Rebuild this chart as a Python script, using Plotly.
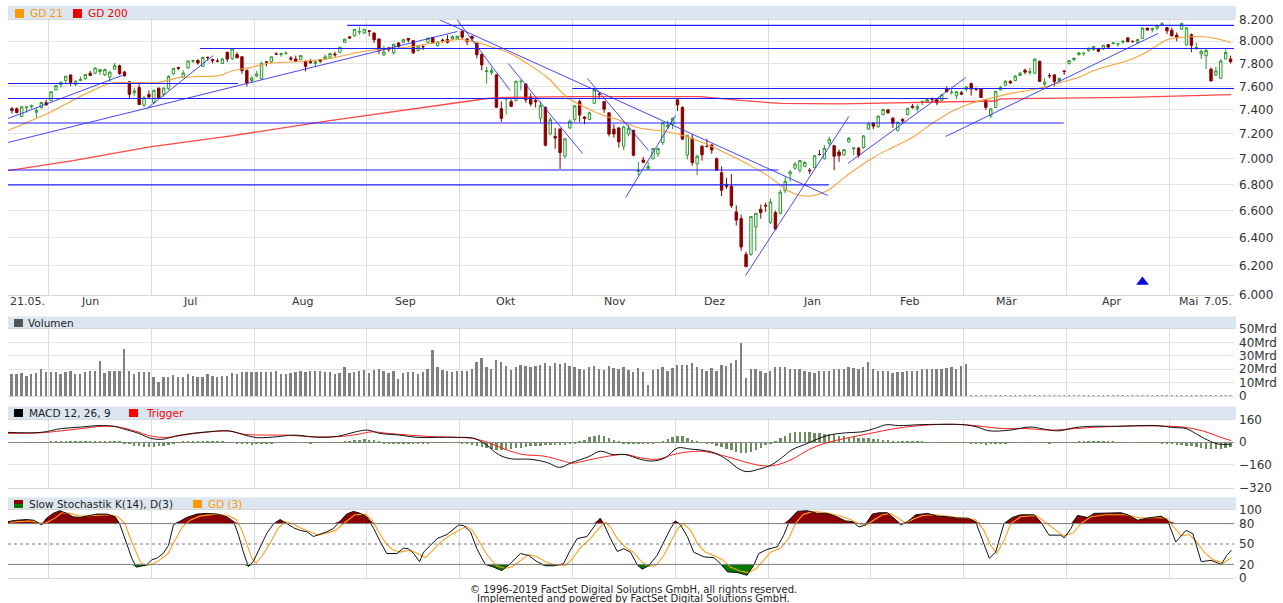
import math
import plotly.graph_objects as go

# ---------------- data ----------------
month_labels = ["Jun", "Jul", "Aug", "Sep", "Okt", "Nov", "Dez", "Jan", "Feb", "Mär", "Apr", "Mai"]
month_start_idx = [8, 29, 50, 73, 92, 115, 136, 155, 176, 195, 216, 237]
month_label_pos = [16, 36.4, 59.3, 80.4, 101, 123.3, 143.6, 163.4, 183.4, 203.3, 224.7, 240.5]
first_label = "21.05."
last_label = "7.05."

opens = [7410,7410,7345,7418,7425,7380,7420,7460,
 7480,7570,7615,7650,7700,7615,7650,7665,7715,7715,7730,7700,7680,7750,7780,7725,7640,7545,7590,7440,7530,
 7460,7585,7530,7580,7710,7765,7680,7760,7820,7830,7775,7855,7835,7820,7800,7900,7845,7880,7860,7740,7650,
 7690,7665,7815,7815,7885,7880,7890,7850,7840,7835,7820,7820,7800,7835,7840,7855,7885,7900,7990,8040,8050,8085,8075,
 8095,8075,8020,7875,7940,7895,7985,7990,8025,8005,7915,7950,7990,8035,7960,8010,8015,8020,8020,
 8090,8020,8045,7985,7880,7730,7720,7700,7410,7490,7470,7480,7640,7620,7510,7480,7330,7420,7200,7180,7240,7020,7250,
 7320,7470,7340,7320,7455,7535,7470,7375,7240,7250,7100,7200,7230,6900,6990,6920,7000,7040,7130,7260,7280,
 7485,7420,7030,7165,6960,7100,7100,7110,7000,6890,6800,6785,6590,6540,6280,6280,6480,6610,6640,
 6510,6585,6580,6750,6880,6925,6910,6940,6910,6930,7035,7000,7125,7105,7055,7030,7135,7080,7085,7090,7240,
 7290,7260,7360,7400,7330,7230,7320,7360,7430,7410,7470,7465,7490,7485,7480,7575,7545,7520,7545,
 7575,7625,7580,7580,7480,7350,7420,7570,7610,7645,7650,7695,7740,7720,7715,7820,7620,7695,7700,7650,7735,
 7800,7835,7880,7890,7915,7925,7930,7930,7970,7980,7975,7990,8030,8000,7990,8025,8120,8105,8120,8150,8125,
 8100,8055,8110,7965,8060,7935,7885,7870,7750,7700,7670,7840,7840]
highs = [7425,7420,7428,7432,7445,7420,7470,7487,
 7557,7612,7639,7689,7702,7650,7685,7705,7735,7765,7750,7755,7730,7806,7790,7735,7645,7590,7620,7520,7565,
 7570,7590,7590,7695,7757,7770,7740,7825,7835,7835,7860,7860,7845,7845,7845,7905,7935,7900,7865,7745,7690,
 7735,7815,7820,7860,7900,7895,7910,7865,7870,7875,7825,7840,7825,7840,7880,7895,7905,7946,8025,8045,8110,8133,8110,
 8100,8080,8025,7960,7945,7980,7990,8025,8030,8010,7965,7970,8035,8040,8000,8025,8055,8055,8050,
 8107,8030,8050,7995,7890,7770,7765,7705,7470,7500,7490,7650,7655,7625,7540,7500,7470,7430,7340,7250,7250,7165,7320,
 7440,7485,7345,7385,7575,7550,7475,7380,7280,7255,7270,7275,7235,6975,7015,6975,7085,7090,7295,7310,7335,
 7490,7430,7190,7200,7035,7110,7160,7120,7010,6940,6850,6880,6640,6570,6300,6555,6580,6645,6660,
 6690,6600,6760,6860,6910,6975,6990,6980,6925,7030,7070,7110,7180,7110,7075,7075,7175,7090,7095,7190,7300,
 7295,7350,7410,7405,7340,7300,7330,7415,7450,7445,7475,7495,7505,7495,7530,7600,7575,7560,7560,
 7600,7635,7590,7580,7485,7415,7560,7605,7655,7650,7700,7725,7755,7760,7850,7825,7670,7715,7705,7675,7740,
 7830,7850,7900,7900,7940,7955,7940,7965,7975,7990,7980,8010,8040,8005,8020,8125,8125,8125,8146,8175,8130,
 8125,8080,8165,8125,8070,7985,7925,7935,7765,7770,7840,7925,7870]
lows = [7370,7370,7337,7375,7410,7335,7410,7435,
 7475,7565,7590,7620,7604,7605,7645,7660,7690,7705,7700,7690,7640,7745,7700,7685,7490,7520,7440,7425,7500,
 7450,7500,7510,7570,7700,7740,7675,7755,7805,7790,7770,7825,7800,7810,7795,7815,7830,7845,7710,7600,7630,
 7680,7660,7775,7800,7875,7860,7880,7825,7815,7830,7730,7800,7770,7805,7835,7850,7860,7895,7985,8020,8040,8060,8070,
 8045,7985,7885,7870,7905,7880,7930,7985,7990,7885,7910,7920,7985,7980,7950,7985,7980,8010,8015,
 8015,7965,8000,7845,7740,7625,7700,7415,7300,7360,7425,7470,7565,7460,7430,7420,7290,7100,7190,7080,6920,7000,7240,
 7300,7300,7280,7315,7450,7490,7375,7180,7170,7090,7070,7180,7020,6870,6965,6915,6995,7015,7110,7240,7240,
 7390,7150,6995,6945,6870,6985,7090,7040,6905,6710,6765,6620,6490,6305,6190,6270,6305,6540,6590,
 6500,6455,6570,6730,6820,6915,6890,6935,6880,6925,7025,6995,7105,6910,6975,7025,7130,7030,7010,7080,7235,
 7240,7250,7355,7365,7250,7220,7290,7355,7410,7385,7440,7460,7465,7440,7475,7550,7530,7490,7525,
 7555,7520,7560,7500,7400,7330,7420,7565,7605,7620,7645,7690,7705,7700,7710,7640,7595,7670,7600,7630,7700,
 7790,7820,7870,7865,7905,7915,7900,7920,7935,7970,7950,7980,7990,7985,7980,8020,8100,8080,8100,8140,8065,
 8045,8000,8105,7960,7900,7920,7840,7750,7645,7690,7665,7840,7800]
closes = [7394,7378,7426,7424,7434,7396,7462,7442,
 7554,7606,7637,7689,7635,7646,7660,7704,7695,7761,7746,7747,7725,7781,7712,7692,7532,7561,7445,7503,7510,
 7567,7503,7586,7688,7757,7759,7716,7823,7826,7805,7855,7854,7825,7820,7841,7840,7932,7852,7737,7630,7672,
 7707,7802,7812,7860,7884,7888,7891,7839,7819,7871,7775,7806,7816,7821,7859,7889,7878,7946,8018,8030,8109,8088,8110,
 8091,8013,7922,7903,7924,7972,7954,8014,8010,7896,7956,7950,8028,7987,7993,8007,7990,8042,8046,
 8037,7999,8025,7879,7788,7735,7738,7422,7329,7497,7430,7645,7643,7485,7449,7468,7437,7108,7318,7167,7050,7161,7306,
 7434,7357,7328,7375,7570,7530,7406,7200,7200,7136,7259,7247,7028,6909,6972,6939,7082,7082,7292,7273,7331,
 7442,7158,7189,6970,7020,7032,7099,7070,6910,6754,6784,6637,6529,6333,6193,6555,6580,6585,6635,
 6665,6463,6739,6823,6897,6958,6986,6971,6906,7024,7034,7084,7157,7020,7025,7073,7165,7086,7028,7184,7282,
 7264,7348,7403,7376,7288,7298,7307,7414,7421,7426,7472,7487,7489,7459,7527,7554,7549,7555,7533,
 7595,7577,7576,7505,7421,7408,7558,7591,7644,7630,7688,7714,7724,7728,7838,7643,7637,7692,7643,7669,7729,
 7828,7848,7895,7891,7938,7953,7909,7964,7947,7985,7976,8000,7996,7998,8015,8120,8102,8118,8146,8161,8095,
 8049,8036,8164,8123,7963,7943,7910,7917,7647,7735,7822,7898,7816]

# volume in Mrd (data ends 01.03.; later days have no volume)
volume_mrd = [16.7,16.7,17.1,14.8,16.2,17.1,20.5,17.9,
 17.9,17.9,16.7,18.1,19.0,16.7,16.7,17.9,19.0,18.6,26.2,17.1,18.6,18.6,19.0,35.2,18.6,16.2,17.9,17.9,17.9,
 14.3,10.2,14.5,14.3,15.5,14.3,14.5,16.2,14.8,14.3,14.3,16.2,14.8,14.3,15.0,14.8,17.1,16.2,18.1,17.6,17.6,
 17.9,18.1,18.1,17.6,18.6,16.7,16.2,17.1,18.1,19.0,17.6,19.0,18.6,18.6,17.9,17.6,16.2,17.1,21.4,17.1,17.9,18.6,19.5,
 17.4,19.5,20.5,18.6,17.1,18.6,12.4,17.1,18.1,18.1,16.7,18.1,20.5,34.5,21.4,19.5,18.6,17.6,18.6,
 18.6,18.6,20.0,25.7,28.6,22.0,20.5,26.7,25.7,22.4,19.5,21.4,22.9,22.4,21.9,22.4,23.3,25.0,22.4,24.3,23.8,24.3,22.4,
 21.4,20.5,19.5,21.9,22.4,20.0,19.5,22.4,21.0,20.5,21.9,19.5,18.1,21.0,18.1,7.9,19.5,20.0,21.9,19.0,21.0,
 23.3,23.3,22.9,24.5,21.4,20.5,19.0,21.0,19.0,22.9,22.6,24.5,26.9,39.3,13.8,20.5,19.8,18.6,17.0,
 19.0,21.4,21.4,21.4,20.5,20.5,19.8,18.6,18.1,17.4,18.6,19.0,18.6,20.5,20.5,19.8,21.4,20.9,19.8,22.0,25.7,
 20.5,18.6,19.0,18.6,17.4,18.1,18.1,18.6,19.0,19.0,19.8,20.5,20.5,19.8,20.5,20.9,21.4,20.5,22.1,
 23.8]

gd21_idx = [-0.8,7.2,11.2,15.3,20,24.7,29.7,34.4,38.4,42.5,45.2,48.7,52.1,58.9,65,69.7,73.2,80,86.9,91.6,
 95.1,98.4,101.8,105.3,109.4,113.5,117.6,120.9,124.3,127.8,130.5,133,136,142.1,146.8,150.9,155,158.5,161.1,163.8,
 166.7,169.3,172,176.1,180.2,184.3,188.3,192.4,195.9,200.6,204.1,207.6,210.8,214.3,217.8,221.1,224.5,228,231.3,233.3,
 236.2,238.9,241.5,245,249.1]
gd21_val = [7228,7369,7454,7540,7625,7634,7634,7677,7686,7695,7738,7764,7800,7818,7845,7890,7916,7943,7988,8016,
 7988,7943,7890,7800,7677,7505,7412,7353,7311,7253,7235,7225,7200,7114,7026,6946,6852,6752,6714,6714,
 6752,6829,6907,7013,7096,7180,7294,7395,7454,7505,7540,7565,7592,7634,7677,7738,7783,7827,7890,7943,
 8016,8034,8043,8034,7988]

gd200_idx = [-0.8,12.5,28.2,45.2,65,80,97.1,100.4,114.1,128.4,140.7,148.9,157.1,169.3,183,201,202,228,249.1]
gd200_val = [6907,6986,7096,7187,7311,7395,7496,7505,7513,7513,7513,7480,7454,7450,7462,7475,7493,7505,7530]

# horizontal support / resistance lines: (price, from day, to day)
hlines = [(8145, 68.5, 249.7), (7934, 38.4, 249.7), (7625, -0.8, 46.2), (7582, 114.5, 249.7),
          (7496, -0.8, 191.2), (7291, -0.8, 214.9), (6911, -0.8, 156.6), (6796, -0.8, 166.9)]
# trend lines: (day0, price0, day1, price1)
trendlines = [(-0.8, 7328, 22.5, 7695), (-0.8, 7131, 91.0, 8089), (27.6, 7411, 41.1, 7871),
              (85.5, 8237, 166.7, 6714), (90.6, 8219, 101.8, 7565), (101.4, 7800, 116.6, 7042),
              (117.6, 7668, 130.1, 7066), (125.4, 6699, 135.6, 7353), (149.9, 6131, 171.0, 7344),
              (170.8, 6963, 194.9, 7677), (190.8, 7180, 234.2, 8071)]
signal_idx = [231]
signal_price = [6085]

macd_idx = [-0.8,5.9,10.1,14.2,17.6,20.9,22.6,25.9,28.4,30.9,33.4,36.8,40.1,44.3,47.6,50.1,54.3,57.6,62.7,66.8,
 70.2,72.7,75.2,79.3,82.7,86.9,91.0,94.4,96.9,99.4,101.9,106.1,109.4,111.9,114.4,117.8,120.2,122.7,125.3,
 128.4,130.9,133.5,136.0,138.5,141.0,143.5,146.0,148.6,150.2,152.7,154.8,156.9,159.4,161.9,164.5,167.0,170.3,173.7,176.2,
 178.7,181.2,185.4,189.6,194.6,197.2,199.7,203.9,208.0,211.4,213.9,217.3,220.6,225.7,230.7,234.0,237.4,239.9,242.4,244.9,
 246.6,249.1]
macd_val = [69,69,96,107,117,112,96,62,27,21,43,62,73,80,50,32,39,50,34,43,
 73,85,62,50,34,34,34,27,-18,-87,-117,-121,-144,-178,-144,-103,-64,-87,-87,
 -121,-133,-110,-41,-48,-57,-75,-121,-190,-208,-190,-167,-121,-53,-18,21,50,66,73,96,
 123,117,123,126,123,107,80,85,107,89,80,103,112,112,117,117,103,96,50,5,
 -14,-14]
trig_idx = [-0.8,5.9,10.1,14.2,18.4,21.7,25.0,28.4,31.8,35.1,39.3,44.3,47.6,51.8,55.9,60.9,66.8,71.0,73.5,76.8,
 81.0,86.0,91.0,94.4,97.7,101.0,104.4,108.6,112.7,114.4,117.8,121.1,125.3,
 128.4,131.8,135.2,137.7,141.0,143.5,146.9,150.2,153.6,156.1,159.4,162.8,166.2,170.3,175.4,180.4,185.4,190.5,194.6,198.0,
 202.2,207.2,212.2,217.3,222.3,229.0,234.0,239.1,243.3,246.6,249.1]
trig_val = [62,66,80,96,112,107,80,43,34,50,69,78,55,50,50,39,39,57,73,62,
 50,39,34,25,-7,-53,-87,-98,-133,-149,-126,-103,-87,
 -110,-121,-87,-71,-64,-80,-110,-144,-167,-162,-121,-53,-7,27,62,96,117,126,123,112,
 96,96,85,96,107,114,114,107,80,39,11]
macd_hist = [2,1,0,-1,0,1,2,2,
 5,8,10,12,14,15,15,14,13,12,12,11,10,8,6,
 -5,-12,-20,-26,-30,-32,-30,-26,-20,-14,-8,
 2,5,8,10,10,9,8,7,6,5,4,2,
 -3,-8,-12,-14,-12,-10,-7,-4,
 -2,0,2,3,2,0,-2,-3,-2,0,1,2,3,4,6,
 12,18,22,24,22,16,8,
 -4,-8,-10,-9,-7,-5,-4,-6,-5,-3,-2,-2,-1,-1,0,
 -1,-3,-8,-15,-22,
 -28,-36,-44,-50,-52,-50,-46,-40,-35,-30,
 -24,-22,-20,-18,-18,-18,-18,-16,-12,-6,
 10,22,38,50,55,48,36,22,10,
 -5,-10,-12,-10,-8,-5,
 -4,2,12,28,42,50,44,32,18,6,
 0,-4,-10,-20,-30,
 -42,-55,-64,-70,-72,-66,-52,-35,
 -18,-4,
 10,30,50,65,74,78,77,74,70,66,62,58,54,50,46,42,38,35,32,30,28,24,20,16,13,
 10,8,7,6,5,5,4,4,3,3,3,2,2,1,0,
 -4,-8,-12,-14,-12,-9,-6,-3,
 -1,0,2,3,3,2,0,-2,-3,
 -2,-1,0,2,4,6,
 8,9,10,10,9,7,5,3,
 2,1,0,0,1,1,0,-1,
 -3,-6,-10,-14,-18,-22,-26,-32,-38,-44,-48,-46,-42,-36,-30]

stoch_k_idx = [-0.8,1.0,3.0,4.4,6.1,7.1,8.4,9.8,11.2,12.5,13.9,15.3,17.3,19.4,21.1,22.1,23.5,24.5,25.4,26.5,
 27.5,28.6,29.6,30.9,32.0,33.0,34.4,35.7,37.8,39.8,41.9,43.9,45.3,46.3,47.3,48.3,49.3,50.7,52.1,53.4,
 54.8,56.2,57.5,58.9,60.3,61.6,63.0,64.4,65.7,67.1,68.4,69.8,71.2,72.5,73.9,75.3,76.6,78.7,80.0,81.0,
 82.1,83.3,84.1,85.5,
 86.9,88.9,91.3,92.3,93.7,95.0,96.7,98.4,100.1,101.8,103.9,105.6,107.3,109.0,110.7,112.7,114.1,115.5,117.5,118.9,
 120.2,120.9,122.3,123.7,125.0,126.4,127.8,128.8,130.1,131.8,133.2,134.6,135.6,136.6,138.0,139.3,141.4,143.4,144.8,146.2,
 148.2,150.2,151.6,152.6,154.3,156.4,157.7,159.1,160.5,162.5,164.6,166.6,168.6,170.3,171.7,173.1,
 174.4,175.8,177.2,178.9,180.2,181.6,183.0,184.7,187.1,189.1,191.2,193.2,195.3,196.9,198.3,199.7,201.0,202.7,204.4,206.1,
 208.9,210.6,211.9,214.3,215.0,216.4,217.7,219.8,221.1,223.9,226.6,228.0,230.0,232.0,234.8,236.1,237.8,239.9,241.3,243.0,
 245.0,247.1,248.2,249.2]
stoch_k_val = [83,85,86,85,78,88,95,99,95,90,89,91,94,94,90,78,48,29,16,18,
 19,27,29,36,48,78,84,89,94,95,94,90,83,63,38,17,24,46,66,79,
 86,80,74,70,68,61,64,68,73,84,94,98,95,90,73,53,36,36,44,43,
 36,24,38,48,
 58,64,78,77,68,43,20,16,11,21,36,33,24,18,18,21,41,58,61,75,
 88,80,58,39,43,38,19,13,18,33,53,73,84,78,61,38,31,30,21,9,
 8,4,19,36,42,46,63,88,98,99,95,95,90,84,83,75,
 78,94,96,96,88,78,83,93,95,91,90,88,88,83,56,29,38,80,89,93,
 93,78,63,63,59,73,92,89,95,95,96,93,85,88,91,85,53,70,65,24,
 26,20,33,41]
stoch_d_idx = [-0.4,3.7,6.7,8.8,10.2,11.9,13.9,17.0,20.0,21.7,23.1,24.1,25.2,26.2,27.2,28.6,30.3,31.9,33.3,34.8,
 36.4,38.4,41.5,44.2,45.8,47.0,48.1,49.1,49.9,51.1,52.8,54.4,55.8,57.3,58.9,60.9,62.6,64.2,66.1,68.1,
 70.1,72.2,73.6,74.8,76.3,77.7,79.3,81.4,83.0,84.5,85.9,
 87.5,89.5,91.6,92.8,94.1,95.7,97.3,99.0,100.8,102.3,103.9,105.5,107.2,109.0,111.0,113.1,114.5,116.2,118.2,119.8,
 121.3,122.3,123.7,125.4,127.0,128.4,129.9,131.5,133.1,134.6,136.0,137.2,138.7,140.1,141.7,143.4,145.2,146.8,148.9,150.5,
 152.1,153.6,155.0,157.1,158.7,160.1,161.6,163.6,166.3,168.9,171.0,173.0,
 174.4,176.3,177.9,179.5,181.2,182.6,184.0,186.1,188.8,191.8,194.9,196.9,198.6,200.0,201.2,202.7,204.1,206.1,209.2,211.2,
 213.3,214.9,216.8,218.4,220.5,223.5,227.6,230.7,233.7,236.0,237.4,238.9,240.5,241.9,243.6,245.4,247.5,249.2]
stoch_d_val = [82,84,80,88,96,95,91,92,93,90,80,60,40,24,18,20,27,36,55,75,
 85,91,94,92,86,70,48,28,22,32,52,73,83,80,74,68,63,66,70,82,
 93,94,85,70,52,42,38,41,35,30,40,
 52,63,72,76,70,52,32,18,14,17,26,34,32,24,19,19,28,45,58,72,
 82,75,58,45,38,26,17,18,32,52,72,80,70,50,38,33,27,16,10,8,
 14,26,38,44,58,80,93,98,96,92,87,80,
 77,86,93,95,87,81,86,92,93,90,88,86,70,48,36,55,80,90,92,82,
 70,62,66,80,90,93,93,88,89,88,75,62,64,55,38,27,22,30]

price_ticks = [6000, 6200, 6400, 6600, 6800, 7000, 7200, 7400, 7600, 7800, 8000, 8200]
price_tick_text = ["6.000", "6.200", "6.400", "6.600", "6.800", "7.000", "7.200", "7.400", "7.600", "7.800", "8.000", "8.200"]
vol_ticks = [0, 10, 20, 30, 40, 50]
vol_tick_text = ["0", "10Mrd", "20Mrd", "30Mrd", "40Mrd", "50Mrd"]
macd_ticks = [-320, -160, 0, 160]
stoch_ticks = [0, 20, 50, 80, 100]

assert len(opens) == len(highs) == len(lows) == len(closes) == 250
assert len(macd_hist) == 250 and len(volume_mrd) == 196
assert len(gd21_idx) == len(gd21_val) and len(gd200_idx) == len(gd200_val)
assert len(macd_idx) == len(macd_val) and len(trig_idx) == len(trig_val)
assert len(stoch_k_idx) == len(stoch_k_val) and len(stoch_d_idx) == len(stoch_d_val)

# ---------------- layout helpers ----------------
W, H = 1283, 603
L, R = 8, 49
PW = W - L - R
FONT = "DejaVu Sans"


def px_x(px):
    return (px - L) / PW


def px_y(py):
    return 1 - py / H


days = list(range(len(closes)))
fig = go.Figure()

# ---------------- main price panel ----------------
fig.add_trace(go.Candlestick(
    x=days, open=opens, high=highs, low=lows, close=closes,
    increasing=dict(line=dict(color="#2a9a2a", width=1), fillcolor="#ffffff"),
    decreasing=dict(line=dict(color="#8b0000", width=1), fillcolor="#8b0000"),
    whiskerwidth=0, hoverinfo="skip", showlegend=False, xaxis="x", yaxis="y"))

fig.add_trace(go.Scatter(x=gd200_idx, y=gd200_val, mode="lines",
                         line=dict(color="rgba(255,40,40,0.85)", width=1.3), xaxis="x", yaxis="y"))
fig.add_trace(go.Scatter(x=gd21_idx, y=gd21_val, mode="lines", line_shape="spline",
                         line=dict(color="#f7a23a", width=1.1), xaxis="x", yaxis="y"))

hx, hy = [], []
for p, a, b in hlines:
    hx += [a, b, None]
    hy += [p, p, None]
fig.add_trace(go.Scatter(x=hx, y=hy, mode="lines", line=dict(color="#2020ff", width=1.1),
                         xaxis="x", yaxis="y"))
tx, ty = [], []
for a, pa, b, pb in trendlines:
    tx += [a, b, None]
    ty += [pa, pb, None]
fig.add_trace(go.Scatter(x=tx, y=ty, mode="lines", line=dict(color="rgba(40,40,250,0.85)", width=1),
                         xaxis="x", yaxis="y"))
fig.add_trace(go.Scatter(x=signal_idx, y=signal_price, mode="markers",
                         marker=dict(symbol="triangle-up", size=11, color="#0a0ae6"),
                         xaxis="x", yaxis="y"))

# ---------------- volume panel ----------------
vol_days = list(range(len(volume_mrd)))
no_vol_days = list(range(len(volume_mrd), len(closes)))
fig.add_trace(go.Bar(x=vol_days, y=volume_mrd, width=0.38, marker=dict(color="#808080", line=dict(width=0)),
                     xaxis="x2", yaxis="y2"))
fig.add_trace(go.Scatter(x=no_vol_days, y=[0] * len(no_vol_days), mode="markers", cliponaxis=False,
                         marker=dict(size=2, color="#777777"), xaxis="x2", yaxis="y2"))

# ---------------- MACD panel ----------------
fig.add_trace(go.Bar(x=days, y=macd_hist, width=0.5, marker=dict(color="#6d8f5d", line=dict(width=0)),
                     xaxis="x3", yaxis="y3"))
fig.add_trace(go.Scatter(x=trig_idx, y=trig_val, mode="lines", line_shape="spline",
                         line=dict(color="#ff2020", width=1), xaxis="x3", yaxis="y3"))
fig.add_trace(go.Scatter(x=macd_idx, y=macd_val, mode="lines", line_shape="spline",
                         line=dict(color="#111111", width=1), xaxis="x3", yaxis="y3"))

# ---------------- Stochastic panel ----------------
k_hi = [max(v, 80) for v in stoch_k_val]
k_lo = [min(v, 20) for v in stoch_k_val]
fig.add_trace(go.Scatter(x=stoch_k_idx, y=[80] * len(stoch_k_idx), mode="lines", line=dict(width=0),
                         xaxis="x4", yaxis="y4"))
fig.add_trace(go.Scatter(x=stoch_k_idx, y=k_hi, mode="lines", line=dict(width=0), fill="tonexty",
                         fillcolor="#8b0000", xaxis="x4", yaxis="y4"))
fig.add_trace(go.Scatter(x=stoch_k_idx, y=[20] * len(stoch_k_idx), mode="lines", line=dict(width=0),
                         xaxis="x4", yaxis="y4"))
fig.add_trace(go.Scatter(x=stoch_k_idx, y=k_lo, mode="lines", line=dict(width=0), fill="tonexty",
                         fillcolor="#007a00", xaxis="x4", yaxis="y4"))
fig.add_trace(go.Scatter(x=stoch_d_idx, y=stoch_d_val, mode="lines",
                         line=dict(color="#ffa020", width=1.1), xaxis="x4", yaxis="y4"))
fig.add_trace(go.Scatter(x=stoch_k_idx, y=stoch_k_val, mode="lines",
                         line=dict(color="#111111", width=1), xaxis="x4", yaxis="y4"))

# ---------------- axes ----------------
grid_x = [s - 0.5 for s in month_start_idx]
xcommon = dict(range=[-0.8, 249.7], tickvals=grid_x, showticklabels=False, showgrid=True,
               gridcolor="#dcdcdc", gridwidth=1, zeroline=False, ticks="", showline=True,
               linecolor="#d8d8d8", linewidth=1, mirror=True, fixedrange=True)
ycommon = dict(side="right", ticks="", tickfont=dict(family=FONT, size=12, color="#333333"),
               showline=False, fixedrange=True, ticklabelstandoff=4)

fig.update_layout(
    xaxis=dict(**xcommon, domain=[0, 1], anchor="y", rangeslider=dict(visible=False)),
    xaxis2=dict(**xcommon, domain=[0, 1], anchor="y2", matches="x"),
    xaxis3=dict(**xcommon, domain=[0, 1], anchor="y3", matches="x"),
    xaxis4=dict(**xcommon, domain=[0, 1], anchor="y4", matches="x"),
    yaxis=dict(**ycommon, type="log", range=[math.log10(6000), math.log10(8200)],
               domain=[px_y(294.5), px_y(19.5)], tickvals=price_ticks, ticktext=price_tick_text,
               showgrid=True, gridcolor="#e4e4e4", zeroline=False, anchor="x"),
    yaxis2=dict(**ycommon, range=[0, 50], domain=[px_y(396), px_y(329)], tickvals=vol_ticks,
                ticktext=vol_tick_text, showgrid=True, gridcolor="#e4e4e4", zeroline=False, anchor="x2"),
    yaxis3=dict(**ycommon, range=[-320, 160], domain=[px_y(487.5), px_y(419.5)], tickvals=macd_ticks,
                showgrid=True, gridcolor="#e4e4e4", zeroline=True, zerolinecolor="#8a8a8a",
                zerolinewidth=1, anchor="x3"),
    yaxis4=dict(**ycommon, range=[0, 100], domain=[px_y(578), px_y(510)], tickvals=stoch_ticks,
                showgrid=False, zeroline=False, anchor="x4"),
    width=W, height=H, margin=dict(l=L, r=R, t=0, b=0, autoexpand=False),
    paper_bgcolor="white", plot_bgcolor="white", showlegend=False, hovermode=False,
    bargap=0,
)

# ---------------- decorations ----------------
shapes = []
annos = []


def header(y_top, y_bot):
    shapes.append(dict(type="rect", xref="paper", yref="paper", x0=px_x(8), x1=px_x(1236),
                       y0=px_y(y_bot), y1=px_y(y_top), fillcolor="#dce6f1", line=dict(width=0),
                       layer="below"))


def square(x0, y0, x1, y1, color):
    shapes.append(dict(type="rect", xref="paper", yref="paper", x0=px_x(x0), x1=px_x(x1),
                       y0=px_y(y1), y1=px_y(y0), fillcolor=color, line=dict(width=0)))


def label(x, y, text, color, size=10.5):
    annos.append(dict(xref="paper", yref="paper", x=px_x(x), y=px_y(y), text=text, showarrow=False,
                      xanchor="left", yanchor="middle", font=dict(family=FONT, size=size, color=color)))


header(6, 19.5)
square(15, 9, 24, 18, "#ff9900")
label(28, 13.5, "GD 21", "#ff9900")
square(73, 9, 82, 18, "#ee0000")
label(86, 13.5, "GD 200", "#ee0000")

header(316.5, 329)
square(14, 319, 23, 327, "#555555")
label(26, 323, "Volumen", "#222222")

header(406.5, 419.5)
square(14, 409, 23, 417, "#000000")
label(27, 413, "MACD 12, 26, 9", "#222222")
square(129, 409, 138, 417, "#ff0000")
label(144, 413, "Trigger", "#ff0000")

header(497.5, 510)
square(14, 500, 23, 504, "#8b0000")
square(14, 504, 23, 508, "#007a00")
label(27, 504, "Slow Stochastik K(14), D(3)", "#222222")
square(193, 500, 202, 508, "#ff9900")
label(206, 504, "GD (3)", "#ff9900")

for lvl, dash in [(80, "solid"), (20, "solid"), (50, "dot")]:
    shapes.append(dict(type="line", xref="paper", yref="y4", x0=0, x1=1, y0=lvl, y1=lvl,
                       line=dict(color="#7a7a7a", width=1, dash=dash)))

# x-axis labels
for pos, txt in zip(month_label_pos, month_labels):
    annos.append(dict(xref="x", yref="paper", x=pos, y=px_y(301), text=txt, showarrow=False,
                      xanchor="center", yanchor="middle", font=dict(family=FONT, size=11, color="#333333")))
annos.append(dict(xref="paper", yref="paper", x=px_x(8), y=px_y(301), text=first_label, showarrow=False,
                  xanchor="left", yanchor="middle", font=dict(family=FONT, size=11, color="#333333")))
annos.append(dict(xref="paper", yref="paper", x=px_x(1234), y=px_y(301), text=last_label, showarrow=False,
                  xanchor="right", yanchor="middle", font=dict(family=FONT, size=11, color="#333333")))

# footer
annos.append(dict(xref="paper", yref="paper", x=px_x(633), y=px_y(589.5),
                  text="© 1996-2019 FactSet Digital Solutions GmbH, all rights reserved.", showarrow=False,
                  xanchor="center", yanchor="middle", font=dict(family=FONT, size=10, color="#222222")))
annos.append(dict(xref="paper", yref="paper", x=px_x(633), y=px_y(598),
                  text="Implemented and powered by FactSet Digital Solutions GmbH.", showarrow=False,
                  xanchor="center", yanchor="middle", font=dict(family=FONT, size=10, color="#222222")))

fig.update_layout(shapes=shapes, annotations=annos)
fig.write_html("out.html", config={"displayModeBar": False},
               post_script="document.body.style.margin='0';document.body.style.overflow='hidden';")
